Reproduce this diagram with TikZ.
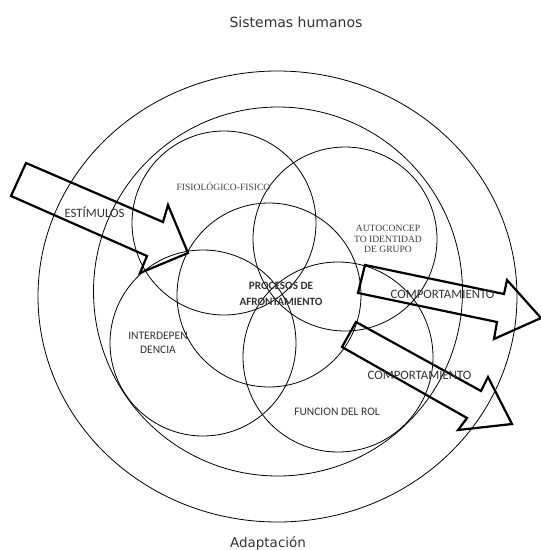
\documentclass[tikz,border=0pt]{standalone}
\usepackage{fontspec}
\usetikzlibrary{positioning}
\newfontfamily\humfont{DejaVu Sans}
\newfontfamily\lblfont{Carlito}
\newfontfamily\serfont{Liberation Serif}

\begin{document}
\begin{tikzpicture}[x=1pt, y=-1pt,
    ring/.style={line width=0.8pt},
    blockarrow/.style={line width=2.2pt, line join=miter},
    titulo/.style={font=\humfont\fontsize{14}{16}\selectfont, text=black!80, inner sep=0pt},
    etiqueta/.style={font=\lblfont\fontsize{12.8}{14}\selectfont, text=black!80, inner sep=0pt, align=center},
    modo/.style={font=\serfont\fontsize{9.6}{10.5}\selectfont, text=black!75, inner sep=0pt, align=center}]
			\useasboundingbox (0,0) rectangle (541,550);

			% sistemas
			\draw[ring] (277.5,296.5) ellipse [x radius=239.5, y radius=225.5];
			\draw[ring] (278,291.5) circle (184.5);

			% modos adaptativos
			\draw[ring] (224,223) circle (92);
			\draw[ring] (345,239) circle (92);
			\draw[ring] (269,295) circle (92);
			\draw[ring] (203,343) circle (93);
			\draw[ring] (338,357) circle (95);

			% flechas
			\draw[blockarrow] (26,163) -- (163,222) -- (168,205) -- (188,253) -- (140,273) -- (147,256) -- (11,196) -- cycle;
			\draw[blockarrow] (365,265) -- (504,294) -- (507,280) -- (541,318) -- (494,339) -- (497,322) -- (358,293) -- cycle;
			\draw[blockarrow] (356,322) -- (481,391) -- (488,377) -- (512,424) -- (458,430) -- (467,418) -- (342,347) -- cycle;

			\node[titulo] (sistemas) at (296,22) {Sistemas humanos};
			\node[titulo, font=\humfont\fontsize{13.5}{16}\selectfont] (adaptacion) at (268,543) {Adaptación};

			\node[etiqueta] (estimulos) at (94.5,212) {ESTÍMULOS};
			\node[etiqueta] (comp1) at (442.5,294) {COMPORTAMIENTO};
			\node[etiqueta] (comp2) at (419.5,375) {COMPORTAMIENTO};
			\node[etiqueta, font=\lblfont\fontsize{11.5}{14}\selectfont] (rol) at (337,412) {FUNCION DEL ROL};
			\node[etiqueta, font=\lblfont\fontsize{11.5}{14}\selectfont] (interdep) at (158,343) {INTERDEPEN\\DENCIA};
			\node[etiqueta, font=\lblfont\bfseries\fontsize{11.2}{16}\selectfont] (procesos) at (281,294) {PROCESOS DE\\AFRONTAMIENTO};
			\node[modo] (fisio) at (223.5,186) {FISIOLÓGICO-FISICO};
			\node[modo] (auto) at (388,239) {AUTOCONCEP\\TO IDENTIDAD\\DE GRUPO};
		\end{tikzpicture}
\end{document}
